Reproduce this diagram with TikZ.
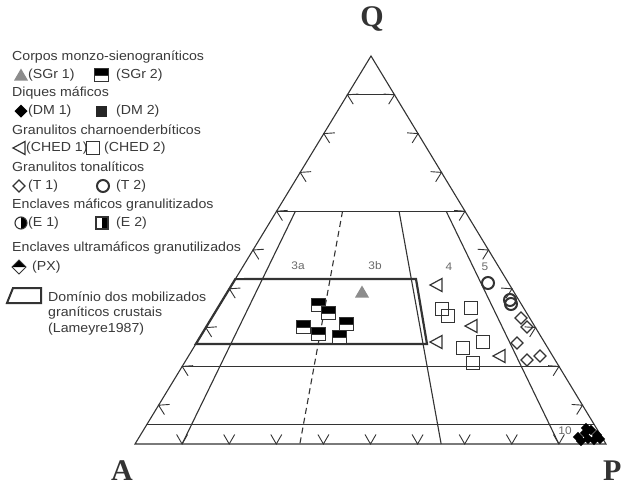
\documentclass[tikz,border=0pt]{standalone}
\usepackage{fontspec}
\setmainfont{Liberation Sans}[FakeStretch=1.08]
\newfontfamily\serifbf{Liberation Serif}
\usetikzlibrary{calc}
\definecolor{ln}{HTML}{333333}
\definecolor{txt}{HTML}{3A3A3A}
\definecolor{lbl}{HTML}{6A6A6A}
\definecolor{tri}{HTML}{8C8C8C}
\tikzset{
  grid/.style={draw=ln, line width=1.1pt},
  leg/.style={anchor=west, inner sep=0pt, text=txt, font=\fontsize{13.1}{15}\selectfont},
  fld/.style={inner sep=0pt, text=lbl, font=\fontsize{11}{12}\selectfont},
  big/.style={inner sep=0pt, text=ln, font=\serifbf\bfseries\fontsize{30}{32}\selectfont},
  sgra/.pic={\fill[tri] (-7,5.5) -- (7,5.5) -- (0,-6.5) -- cycle;},
  sgrb/.pic={\fill[black] (-7,-6.5) rectangle (7,0); \draw[ln,line width=1pt,fill=white] (-7,0) rectangle (7,6.5); \draw[ln,line width=1pt] (-7,-6.5) rectangle (7,6.5);},
  dma/.pic={\fill[black] (0,-6.5) -- (6.5,0) -- (0,6.5) -- (-6.5,0) -- cycle;},
  dmb/.pic={\fill[black!85] (-5.5,-5.5) rectangle (5.5,5.5);},
  cheda/.pic={\draw[ln,line width=1.2pt,fill=white] (6,-6.5) -- (-6,0) -- (6,6.5) -- cycle;},
  chedb/.pic={\draw[ln,line width=1.7pt] (-6.5,-6.5) rectangle (6.5,6.5);},
  ta/.pic={\draw[ln,line width=1.1pt] (0,-6) -- (6,0) -- (0,6) -- (-6,0) -- cycle;},
  tb/.pic={\draw[ln,line width=2pt] (0,0) circle[radius=6];},
  ea/.pic={\fill[black] (0,-6) arc[start angle=-90,end angle=90,radius=6] -- cycle; \draw[ln,line width=1.1pt] (0,0) circle[radius=6];},
  eb/.pic={\fill[black] (0,-6) rectangle (6,6); \draw[ln,line width=1.1pt] (-6,-6) rectangle (6,6);},
  px/.pic={\fill[black] (-7,0) -- (0,-7) -- (7,0) -- cycle; \draw[ln,line width=1pt] (0,-7) -- (7,0) -- (0,7) -- (-7,0) -- cycle;},
}
\begin{document}
\begin{tikzpicture}[x=1pt,y=-1pt]
\useasboundingbox (0,0) rectangle (624,488);
\fill[white] (0,0) rectangle (624,488);
% triangle
\coordinate (A) at (135,444);
\coordinate (P) at (606,444);
\coordinate (Q) at (371,56);
\coordinate (L90) at ($(A)!0.9!(Q)$); \coordinate (R90) at ($(P)!0.9!(Q)$);
\coordinate (L60) at ($(A)!0.6!(Q)$); \coordinate (R60) at ($(P)!0.6!(Q)$);
\coordinate (L20) at ($(A)!0.2!(Q)$); \coordinate (R20) at ($(P)!0.2!(Q)$);
\coordinate (L5) at ($(A)!0.05!(Q)$); \coordinate (R5) at ($(P)!0.05!(Q)$);
\draw[grid] (A) -- (P) -- (Q) -- cycle;
\draw[grid] (L90) -- (R90);
\draw[grid] (L60) -- (R60);
\draw[grid] (L20) -- (R20);
\draw[grid] (L5) -- (R5);
\draw[grid] ($(L60)!0.10!(R60)$) -- ($(A)!0.10!(P)$);
\draw[grid,dash pattern=on 6pt off 4pt] ($(L60)!0.35!(R60)$) -- ($(A)!0.35!(P)$);
\draw[grid] ($(L60)!0.65!(R60)$) -- ($(A)!0.65!(P)$);
\draw[grid] ($(L60)!0.90!(R60)$) -- ($(A)!0.90!(P)$);
% ticks
\foreach \i in {1,...,9}{
  \draw[grid,line width=0.9pt] ($(A)!\i/10!(P)$) ++(240:11) -- ++(60:11) -- ++(300:11);
  \draw[grid,line width=0.9pt] ($(A)!\i/10!(Q)$) ++(-4:11) -- ++(176:11) -- ++(58:11);
  \draw[grid,line width=0.9pt] ($(P)!\i/10!(Q)$) ++(184:11) -- ++(4:11) -- ++(122:11);
}
% Lameyre domain
\draw[ln,line width=2.2pt,line join=miter] ($(A)!0.425!(Q)$) coordinate (b1) -- (416,279) -- (427,344) -- ($(A)!0.258!(Q)$) -- cycle;
% field labels
\node[fld] (f3a) at (298,266) {3a};
\node[fld] (f3b) at (375,266) {3b};
\node[fld] (f4) at (449,267) {4};
\node[fld] (f5) at (485,267) {5};
\node[fld] (f10) at (565,431) {10};
% vertex letters
\node[big] (lq) at (372,19) {Q};
\node[big,anchor=base] (la) at (122,480) {A};
\node[big,anchor=base west] (lp) at (603,480) {P};
% data: SGr
\pic at (362,292) {sgra};
\foreach \p in {(318,305),(328,313),(303,327),(318,334),(346,324),(339,337)} \pic at \p {sgrb};
% CHED 1
\foreach \p in {(436,285),(471,326),(436,342),(499,356)} \pic at \p {cheda};
% CHED 2
\foreach \p in {(442,309),(448,316),(471,308),(483,342),(463,348),(473,363)} \pic at \p {chedb};
% T 2
\foreach \p in {(488,283),(510,300),(511,304)} \pic at \p {tb};
% T 1
\foreach \p in {(521,318),(527,327),(517,343),(527,360),(540,356)} \pic at \p {ta};
% DM1 / PX cluster
\foreach \p in {(578,437),(585,433),(591,430),(597,435),(588,439),(581,441),(594,440),(600,439),(586,428)} \pic[scale=0.8] at \p {dma};
% legend
\node[leg] (t1) at (12,57) {Corpos monzo-sienograníticos};
\pic at (21,75) {sgra}; \node[leg] (s1) at (28,75) {(SGr 1)};
\pic at (101,75) {sgrb}; \node[leg] (s2) at (116,75) {(SGr 2)};
\node[leg] (t2) at (12,93) {Diques máficos};
\pic at (21,111) {dma}; \node[leg] (s3) at (28,111) {(DM 1)};
\pic at (101,111) {dmb}; \node[leg] (s4) at (116,111) {(DM 2)};
\node[leg] (t3) at (12,130) {Granulitos charnoenderbíticos};
\pic at (19,148) {cheda}; \node[leg] (s5) at (26,148) {(CHED 1)};
\pic at (93,148) {chedb}; \node[leg] (s6) at (104,148) {(CHED 2)};
\node[leg] (t4) at (12,167) {Granulitos tonalíticos};
\pic at (19,186) {ta}; \node[leg] (s7) at (28,186) {(T 1)};
\pic at (103,186) {tb}; \node[leg] (s8) at (116,186) {(T 2)};
\node[leg] (t5) at (12,205) {Enclaves máficos granulitizados};
\pic at (21,223) {ea}; \node[leg] (s9) at (28,223) {(E 1)};
\pic at (102,223) {eb}; \node[leg] (s10) at (116,223) {(E 2)};
\node[leg] (t6) at (12,248) {Enclaves ultramáficos granutilizados};
\pic at (19,267) {px}; \node[leg] (s11) at (32,267) {(PX)};
\draw[ln,line width=2pt,line join=miter] (13,288) -- (41,288) -- (41,303) -- (7,303) -- cycle;
\node[leg] (t7) at (48,297) {Domínio dos mobilizados};
\node[leg] (t8) at (48,313) {graníticos crustais};
\node[leg] (t9) at (48,329) {(Lameyre1987)};
\end{tikzpicture}
\end{document}
